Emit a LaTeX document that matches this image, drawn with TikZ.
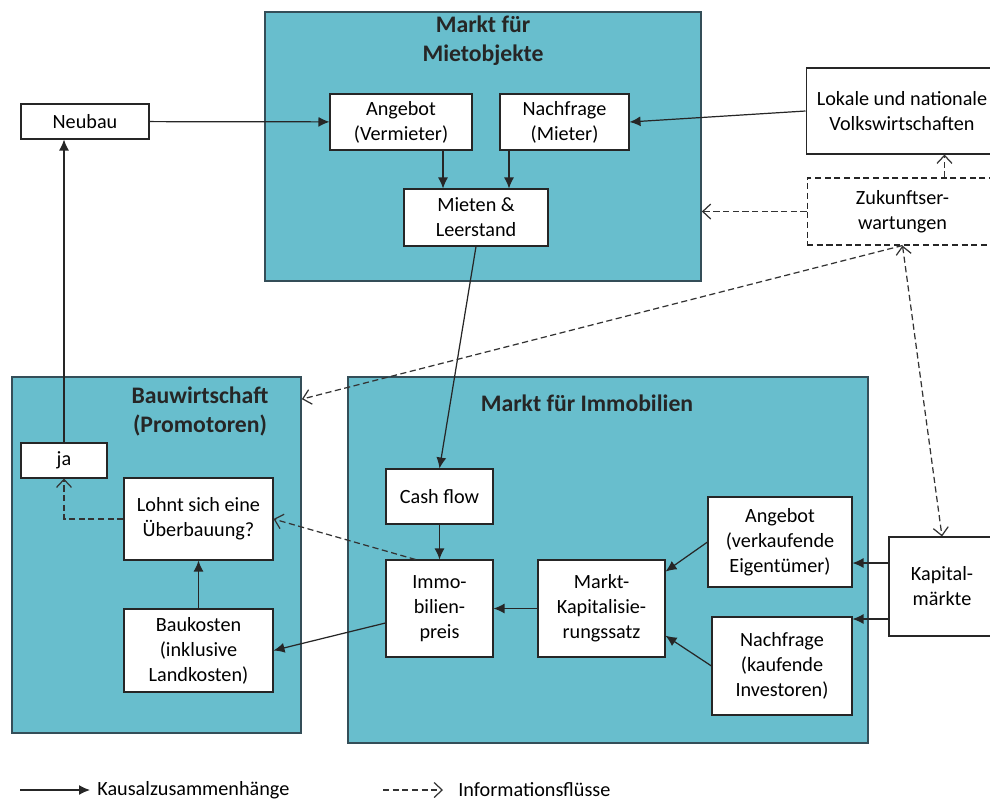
\documentclass[tikz,border=0pt]{standalone}
\usepackage{fontspec}
\setmainfont{Carlito}
\usepackage{tikz}
\usetikzlibrary{arrows.meta,positioning}
\definecolor{mktcyan}{RGB}{104,190,205}
\definecolor{mktline}{RGB}{52,78,88}

\begin{document}
\begin{tikzpicture}[x=0.02cm,y=-0.02cm,
    market/.style={draw=mktline, fill=mktcyan, line width=1pt, inner sep=0pt},
    box/.style={draw=black!85, fill=white, line width=0.6pt, align=center, inner sep=1pt,
      font=\fontsize{11.5}{14.2}\selectfont},
    dashbox/.style={box, dash pattern=on 3.5pt off 2pt},
    title/.style={font=\fontsize{13.5}{16.5}\selectfont\bfseries, text=black!85, align=center},
    causal/.style={-{Latex[length=2.2mm,width=2mm]}, line width=0.7pt, draw=black!85},
    info/.style={-{Straight Barb[length=1.6mm,width=3mm]}, line width=0.7pt, draw=black!80,
      dash pattern=on 3.5pt off 2pt}]
  \useasboundingbox (0,0) rectangle (990,809);
  \clip (0,0) rectangle (990,809);
  % Markets (cyan areas)
  \node[market, minimum width=8.72cm, minimum height=5.38cm] (mietmarkt) at (483,146.5) {};
  \node[market, minimum width=10.4cm, minimum height=7.32cm] (immomarkt) at (608,560) {};
  \node[market, minimum width=5.78cm, minimum height=7.12cm] (baumarkt) at (156.5,555) {};
  \node[title] (mietlabel) at (483,41) {Markt für\\Mietobjekte};
  \node[title] (immolabel) at (587,403) {Markt für Immobilien};
  \node[title] (baulabel) at (200,411) {Bauwirtschaft\\(Promotoren)};
  % Market for rented space
  \node[box, minimum width=2.56cm, minimum height=0.70cm] (neubau) at (85,121.5) {Neubau};
  \node[box, minimum width=2.84cm, minimum height=1.12cm] (angebot) at (401,122) {Angebot\\(Vermieter)};
  \node[box, minimum width=2.58cm, minimum height=1.12cm] (nachfrage) at (564.5,122) {Nachfrage\\(Mieter)};
  \node[box, minimum width=2.88cm, minimum height=1.14cm] (mieten) at (476,217.5) {Mieten \&\\Leerstand};
  \node[box, minimum width=3.84cm, minimum height=1.72cm] (volkswirt) at (902,111) {Lokale und nationale\\Volkswirtschaften};
  \node[dashbox, minimum width=3.82cm, minimum height=1.34cm] (erwartung) at (902.5,211.5) {Zukunftser-\\wartungen};
  % Market for property
  \node[box, minimum width=2.14cm, minimum height=1.10cm] (cashflow) at (439.5,496.5) {Cash flow};
  \node[box, minimum width=2.14cm, minimum height=1.94cm] (preis) at (439.5,608.5) {Immo-\\bilien-\\preis};
  \node[box, minimum width=2.54cm, minimum height=1.94cm] (kapsatz) at (601.5,608.5) {Markt-\\Kapitalisie-\\rungssatz};
  \node[box, minimum width=2.88cm, minimum height=1.80cm] (verkauf) at (780,542) {Angebot\\(verkaufende\\Eigentümer)};
  \node[box, minimum width=2.80cm, minimum height=1.96cm] (kauf) at (782,666) {Nachfrage\\(kaufende\\Investoren)};
  \node[box, minimum width=2.12cm, minimum height=1.98cm] (kapital) at (942,586.5) {Kapital-\\märkte};
  % Construction
  \node[box, minimum width=1.72cm, minimum height=0.70cm] (ja) at (64,460.5) {ja};
  \node[box, minimum width=2.98cm, minimum height=1.64cm] (lohnt) at (198.5,519) {Lohnt sich eine\\Überbauung?};
  \node[box, minimum width=2.98cm, minimum height=1.66cm] (baukosten) at (198.5,650.5) {Baukosten\\(inklusive\\Landkosten)};

  % causal links
  \draw[causal] (neubau) -- (angebot);
  \draw[causal] ([xshift=-0.66cm]mieten.north |- angebot.south) -- ([xshift=-0.66cm]mieten.north);
  \draw[causal] ([xshift=0.66cm]mieten.north |- nachfrage.south) -- ([xshift=0.66cm]mieten.north);
  \draw[causal] (volkswirt.west) -- (nachfrage.east);
  \draw[causal] (mieten.south) -- (cashflow.north);
  \draw[causal] (cashflow) -- (preis);
  \draw[causal] (kapsatz) -- (preis);
  \draw[causal] (verkauf.west) -- (kapsatz.30);
  \draw[causal] (kauf.west) -- (kapsatz.-23);
  \draw[causal] ([yshift=0.47cm]kapital.west) -- ([yshift=0.47cm]kapital.west -| verkauf.east);
  \draw[causal] ([yshift=-0.65cm]kapital.west) -- ([yshift=-0.65cm]kapital.west -| kauf.east);
  \draw[causal] (preis.195) -- (baukosten.east);
  \draw[causal] (baukosten) -- (lohnt);
  \draw[causal] (ja.north) -- (ja.north |- neubau.south);

  % information flows
  \draw[info] ([xshift=0.84cm]erwartung.north) -- ([xshift=0.84cm]erwartung.north |- volkswirt.south);
  \draw[info] (erwartung.west) -- (erwartung.west -| mietmarkt.east);
  \draw[info] (erwartung.south) -- (baumarkt.47);
  \draw[info, {Straight Barb[length=1.6mm,width=3mm]}-{Straight Barb[length=1.6mm,width=3mm]}] (erwartung.south) -- (kapital.north);
  \draw[info] (preis.116) -- (lohnt.east);
  \draw[info] (lohnt.west) -| (ja.south);

  % legend
  \coordinate (kausalA) at (20,790);
  \coordinate (kausalB) at (90,790);
  \coordinate (infoA) at (383,790);
  \coordinate (infoB) at (443,790);
  \draw[causal] (kausalA) -- (kausalB);
  \node[anchor=west, font=\fontsize{11.5}{14}\selectfont, inner sep=0pt] (kausaltext) at (97,790) {Kausalzusammenhänge};
  \draw[info] (infoA) -- (infoB);
  \node[anchor=west, font=\fontsize{11.5}{14}\selectfont, inner sep=0pt] (infotext) at (458,790) {Informationsflüsse};
\end{tikzpicture}
\end{document}
